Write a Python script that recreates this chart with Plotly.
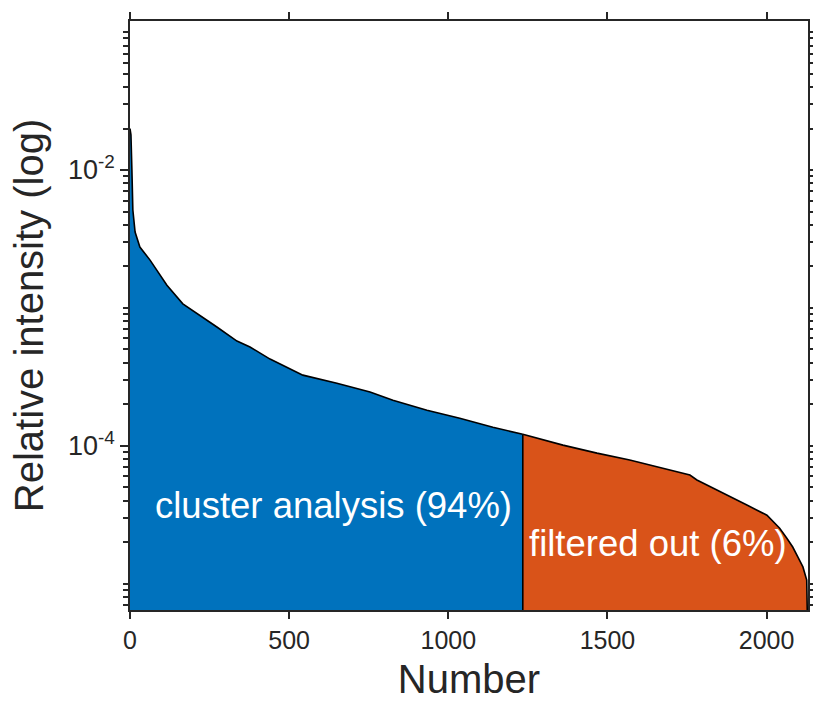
import plotly.graph_objects as go

# Sorted relative intensities (descending), sampled along the curve
cluster_n = [0, 3, 6, 9, 16, 31, 63, 116, 166, 220, 273, 336, 377, 440, 543,
             650, 754, 826, 933, 1036, 1140, 1234]
cluster_v = [0.020, 0.0180, 0.0100, 0.00513, 0.00355, 0.00276, 0.00222, 0.00146,
             0.00107, 0.000873, 0.000726, 0.000574, 0.000520, 0.000425, 0.000325,
             0.000284, 0.000245, 0.000214, 0.000181, 0.000158, 0.000136, 0.000121]

filtered_n = [1234, 1360, 1467, 1570, 1674, 1759, 1781, 1831, 1884, 1938, 2001,
              2041, 2063, 2082, 2098, 2114, 2126, 2130]
filtered_v = [0.000121, 0.000101, 8.83e-5, 7.87e-5, 6.87e-5, 6.12e-5, 5.64e-5,
              4.92e-5, 4.24e-5, 3.71e-5, 3.13e-5, 2.52e-5, 2.14e-5, 1.84e-5,
              1.56e-5, 1.32e-5, 1.06e-5, 3e-6]

x_ticks = [0, 500, 1000, 1500, 2000]
y_labeled = [1e-4, 1e-2]
y_labeled_text = ["10<sup>-4</sup>", "10<sup>-2</sup>"]
y_unlabeled_decades = [1e-5, 1e-3, 1e-1]

labels = ["cluster analysis (94%)", "filtered out (6%)"]

BLUE = "#0072BD"
ORANGE = "#D95319"
INK = "#262626"
FONT = "Liberation Sans, Arial, Helvetica, sans-serif"

fig = go.Figure()
fig.add_trace(go.Scatter(x=cluster_n, y=cluster_v, mode="lines", fill="tozeroy",
                         fillcolor=BLUE, line=dict(color="black", width=1.6),
                         showlegend=False, hoverinfo="skip"))
fig.add_trace(go.Scatter(x=filtered_n, y=filtered_v, mode="lines", fill="tozeroy",
                         fillcolor=ORANGE, line=dict(color="black", width=1.6),
                         showlegend=False, hoverinfo="skip"))
# divider between the two regions
fig.add_trace(go.Scatter(x=[filtered_n[0], filtered_n[0]], y=[1e-7, filtered_v[0]],
                         mode="lines", line=dict(color="black", width=1.6),
                         showlegend=False, hoverinfo="skip"))

minor_vals = y_unlabeled_decades + [
    m * d for d in (1e-6, 1e-5, 1e-4, 1e-3, 1e-2, 1e-1) for m in range(2, 10)]

fig.update_layout(
    width=813, height=716,
    margin=dict(l=130, r=5, t=21, b=106, autoexpand=False),
    paper_bgcolor="white", plot_bgcolor="white",
    font=dict(family=FONT, color=INK),
    xaxis=dict(
        range=[0, 2130], tickvals=x_ticks, ticks="outside", ticklen=7, tickwidth=1.5,
        tickcolor=INK, showline=True, linecolor=INK, linewidth=1.5, mirror="ticks",
        showgrid=False, zeroline=False, automargin=False,
        tickfont=dict(size=25, color=INK),
        title=dict(text="Number", font=dict(size=40, color=INK), standoff=12),
    ),
    yaxis=dict(
        type="log", range=[-5.192, -0.919], tickmode="array", tickvals=y_labeled,
        ticktext=y_labeled_text, ticks="outside", ticklen=8, tickwidth=1.5,
        tickcolor=INK, showline=True, linecolor=INK, linewidth=1.5, mirror="ticks",
        showgrid=False, zeroline=False, automargin=False,
        tickfont=dict(size=27, color=INK),
        minor=dict(tickmode="array", tickvals=minor_vals, ticks="outside",
                   ticklen=5, tickwidth=1.5, tickcolor=INK, showgrid=False),
        title=dict(text="Relative intensity (log)", font=dict(size=40, color=INK),
                   standoff=12),
    ),
    annotations=[
        dict(x=72, y=-4.431, xref="x", yref="y", text=labels[0], showarrow=False,
             xanchor="left", yanchor="middle", font=dict(size=36.5, color="white")),
        dict(x=1247, y=-4.707, xref="x", yref="y", text=labels[1], showarrow=False,
             xanchor="left", yanchor="middle", font=dict(size=36.5, color="white")),
    ],
)

fig.write_html("out.html")
